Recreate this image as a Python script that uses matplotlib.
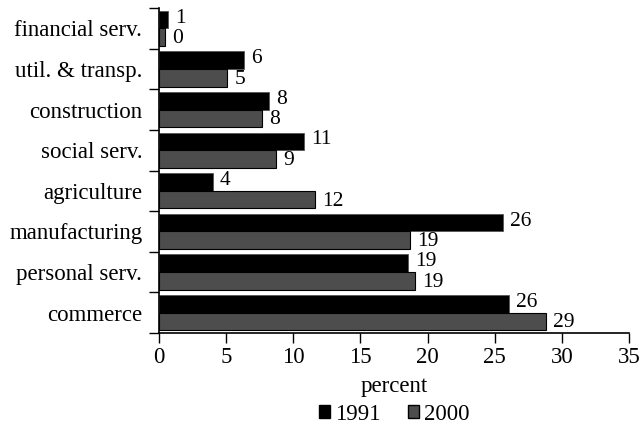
import matplotlib
matplotlib.use("Agg")
import matplotlib.pyplot as plt
import numpy as np
from matplotlib.patches import Patch

categories = ["commerce", "personal serv.", "manufacturing", "agriculture",
              "social serv.", "construction", "util. & transp.", "financial serv."]
v1991 = [26.1, 18.55, 25.6, 4.0, 10.8, 8.2, 6.35, 0.69]
v2000 = [28.8, 19.1, 18.7, 11.6, 8.7, 7.65, 5.1, 0.45]
series_labels = ["1991", "2000"]
xticks = [0, 5, 10, 15, 20, 25, 30, 35]

plt.rcParams['font.family'] = ['Liberation Serif', 'DejaVu Serif']
FS = 16.5

fig = plt.figure(figsize=(6.4, 4.33), dpi=100)
ax = fig.add_axes([159/640, 1-333/433, 470/640, 325/433])

y = np.arange(len(categories))
h = 0.435
b1 = ax.barh(y + h/2, v1991, height=h, color="black", edgecolor="#555555", linewidth=0.6)
b2 = ax.barh(y - h/2, v2000, height=h, color="#4d4d4d", edgecolor="black", linewidth=0.8)

for bars, vals, dy in ((b1, v1991, 1), (b2, v2000, -1)):
    for rect, v in zip(bars, vals):
        ax.annotate(f"{int(v + 0.5):d}", (rect.get_width(), rect.get_y() + rect.get_height()/2),
                    xytext=(5, dy), textcoords="offset points", va="center", ha="left",
                    fontsize=15.5)

ax.set_xlim(0, 35)
ax.set_ylim(-0.5, len(categories) - 0.5)
ax.set_xticks(xticks)
ax.set_xticklabels([str(t) for t in xticks], fontsize=FS)
ax.set_yticks(y)
ax.set_yticklabels(categories, fontsize=FS)
ax.set_yticks(np.arange(-0.5, len(categories), 1.0), minor=True)
ax.tick_params(axis='y', which='major', length=0, pad=12)
ax.tick_params(axis='y', which='minor', length=7, width=1, direction='out')
ax.tick_params(axis='x', which='major', length=7, width=1, direction='out', pad=3)
for s in ("top", "right"):
    ax.spines[s].set_visible(False)
for s in ("left", "bottom"):
    ax.spines[s].set_linewidth(1.2)
ax.set_xlabel("percent", fontsize=FS, labelpad=6)

handles = [Patch(facecolor="black", edgecolor="black"),
           Patch(facecolor="#4d4d4d", edgecolor="black")]
fig.legend(handles, series_labels, loc="center", bbox_to_anchor=(394/640, 1-414/433),
           ncol=2, frameon=False, fontsize=FS, handlelength=0.5, handleheight=0.5,
           handletextpad=0.2, columnspacing=1.2)

fig.savefig("out.png", dpi=100)
